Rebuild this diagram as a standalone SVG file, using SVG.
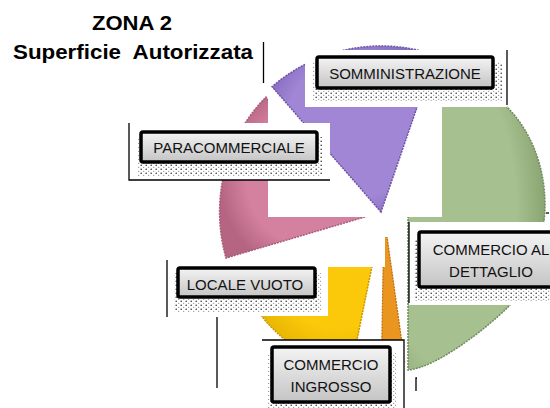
<svg xmlns="http://www.w3.org/2000/svg" width="550" height="408" viewBox="0 0 550 408">
<style>
.lbl{font-family:"Liberation Sans",Arial,sans-serif;font-size:15px;fill:#111;text-anchor:middle}
.ttl{font-family:"Liberation Sans",Arial,sans-serif;font-size:20px;font-weight:bold;fill:#000;text-anchor:middle}
.box{fill:url(#boxg);stroke:#000;stroke-width:3.5}
.shadow{fill:url(#dots)}
.bg{fill:#fff}
.ln{stroke:#000;stroke-width:1.3;fill:none}
</style>
<defs>
<linearGradient id="boxg" x1="0" y1="0" x2="0" y2="1">
<stop offset="0" stop-color="#f4f4f4"/>
<stop offset="1" stop-color="#c4c4c4"/>
</linearGradient>
<pattern id="dots" width="5" height="4" patternUnits="userSpaceOnUse">
<circle cx="1.2" cy="1.2" r="0.8" fill="#333"/>
<circle cx="3.7" cy="3.2" r="0.55" fill="#666"/>
</pattern>
<radialGradient id="gPurple" cx="0.5" cy="0.5" r="0.6"><stop offset="0.7" stop-color="#a186d6"/><stop offset="1" stop-color="#8467bd"/></radialGradient>
<radialGradient id="gPink" cx="0.6" cy="0.5" r="0.6"><stop offset="0.7" stop-color="#d4819f"/><stop offset="1" stop-color="#b56582"/></radialGradient>
<radialGradient id="gGreen" cx="0.3" cy="0.5" r="0.7"><stop offset="0.7" stop-color="#a7c08f"/><stop offset="1" stop-color="#8aa472"/></radialGradient>
<radialGradient id="gYellow" cx="0.7" cy="0.3" r="0.7"><stop offset="0.6" stop-color="#fbc90a"/><stop offset="1" stop-color="#e2ae00"/></radialGradient>
</defs>
<rect width="550" height="408" fill="#fff"/>

<g id="title">
<text class="ttl" x="132" y="30" textLength="80" lengthAdjust="spacingAndGlyphs">ZONA 2</text>
<text class="ttl" x="133" y="59" textLength="240" lengthAdjust="spacingAndGlyphs" xml:space="preserve">Superficie  Autorizzata</text>
</g>

<g id="pie">
<path id="slice-yellow" d="M381,222 L350.7,370.9 A152,152 0 0 1 238.2,274 Z" fill="url(#gYellow)" stroke="#c99600" stroke-width="1.5" stroke-dasharray="2 1"/>
<path id="slice-orange" d="M384,215 L404.9,363.5 L381.4,365 Z" fill="#e9951f" stroke="#b86d10" stroke-width="1.2" stroke-dasharray="2 1"/>
<rect class="bg" x="268" y="217" width="117" height="50"/>
<rect class="bg" x="380" y="217" width="8" height="20"/>
<path id="slice-pink" d="M368,216 L226,258 A148,158 0 0 1 266,97 Z" fill="url(#gPink)" stroke="#a85a7a" stroke-width="1.5" stroke-dasharray="2 1"/>
<path id="slice-green" d="M408,213 L408,370 C435,368 485,330 508,307 C530,285 545,240 545,205 C545,165 530,130 507,107 C490,88 465,70 440,60 Z" fill="url(#gGreen)" stroke="#6f8a5c" stroke-width="1.5" stroke-dasharray="2 1"/>
<rect class="bg" x="268" y="85" width="174" height="132"/>
<path id="slice-purple" d="M381,212 L272.1,86.7 A166,166 0 0 1 435,55 Z" fill="url(#gPurple)" stroke="#6d52a5" stroke-width="1.5" stroke-dasharray="2 1"/>
</g>

<g id="somministrazione">
<rect class="bg" x="305" y="50" width="202" height="57"/>
<rect class="shadow" x="313" y="62" width="189" height="39"/>
<rect class="box" x="317" y="57" width="176" height="31" rx="2"/>
<text class="lbl" x="405" y="79">SOMMINISTRAZIONE</text>
</g>

<g id="paracommerciale">
<rect class="bg" x="129" y="123" width="201" height="57"/>
<rect class="shadow" x="137" y="137" width="186" height="39"/>
<rect class="box" x="141" y="132" width="176" height="30" rx="2"/>
<text class="lbl" x="229" y="153">PARACOMMERCIALE</text>
</g>

<g id="locale-vuoto">
<rect class="bg" x="167" y="260" width="161" height="56"/>
<rect class="shadow" x="174" y="273" width="147" height="39"/>
<rect class="box" x="178" y="268" width="137" height="29" rx="2"/>
<text class="lbl" x="245" y="290">LOCALE VUOTO</text>
</g>

<g id="commercio-ingrosso">
<rect class="bg" x="262" y="340" width="143" height="68"/>
<rect class="shadow" x="268" y="353" width="128" height="58"/>
<rect class="box" x="272" y="347" width="118" height="55" rx="2"/>
<text class="lbl" x="331" y="370">COMMERCIO</text>
<text class="lbl" x="331" y="392">INGROSSO</text>
</g>

<g id="commercio-dettaglio">
<rect class="bg" x="409" y="222" width="141" height="83"/>
<rect class="shadow" x="415" y="238" width="150" height="63"/>
<rect class="box" x="419" y="232" width="150" height="55" rx="2"/>
<text class="lbl" x="491" y="255">COMMERCIO AL</text>
<text class="lbl" x="491" y="277">DETTAGLIO</text>
</g>

<g id="connectors">
<line class="ln" x1="263.5" y1="42" x2="263.5" y2="83"/>
<line class="ln" x1="507" y1="50" x2="507" y2="105"/>
<polyline class="ln" points="129,123 129,180 330,180"/>
<line class="ln" x1="167" y1="260" x2="167" y2="317"/>
<line class="ln" x1="217" y1="317" x2="217" y2="388"/>
<polyline class="ln" points="262,340 404,340 404,408"/>
<line class="ln" x1="409" y1="222" x2="409" y2="303"/>
<polyline class="ln" points="417,378 416,378 416,391"/>
<line class="ln" x1="546" y1="213" x2="549" y2="213"/>
</g>
</svg>
